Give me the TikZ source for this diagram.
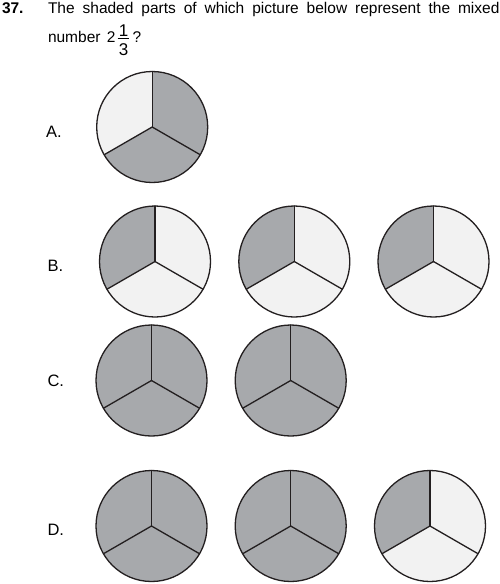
\documentclass[tikz,border=0pt]{standalone}
\usepackage{fontspec}
\setmainfont{Liberation Sans}
\definecolor{darkfill}{HTML}{A7A9AC}
\definecolor{lightfill}{HTML}{F2F2F2}
\definecolor{ink}{HTML}{231F20}
\tikzset{
  txt/.style={inner sep=0pt, outer sep=0pt, font=\fontsize{15.5}{18}\selectfont, text=black},
  fracdigit/.style={inner sep=0pt, outer sep=0pt, font=\fontsize{17}{19}\selectfont, text=black},
  lbl/.style={inner sep=0pt, outer sep=0pt, font=\fontsize{16.5}{18}\selectfont, text=black},
  rim/.style={draw=ink, line width=1.3pt},
  spoke/.style={draw=ink, line width=1.3pt, line cap=round},
}
% y axis points down: screen-up is 270, lower-left spoke 150, lower-right spoke 30
% #1 name, #2 x, #3 y, #4 left colour, #5 right colour, #6 bottom colour
\newcommand\fracpie[6]{%
  \coordinate (#1) at (#2,#3);
  \fill[fill=#4] (#1) -- ++(150:55.5) arc[start angle=150, end angle=270, radius=55.5] -- cycle;
  \fill[fill=#5] (#1) -- ++(-90:55.5) arc[start angle=-90, end angle=30, radius=55.5] -- cycle;
  \fill[fill=#6] (#1) -- ++(30:55.5) arc[start angle=30, end angle=150, radius=55.5] -- cycle;
  \draw[spoke] (#1) -- ++(270:55.5);
  \draw[spoke] (#1) -- ++(150:55.5);
  \draw[spoke] (#1) -- ++(30:55.5);
  \draw[rim] (#1) circle[radius=55.5];
}
\begin{document}
\begin{tikzpicture}[x=1pt,y=-1pt]
\useasboundingbox (0,0) rectangle (500,584);
\fill[white] (0,0) rectangle (500,584);
% question text
\node[txt, font=\fontsize{15.5}{18}\selectfont\bfseries, anchor=base west] (num) at (2,13.8) {37.};
\node[txt, anchor=base west] (line1) at (48,13.8) {\makebox[451.5pt][s]{The shaded parts of which picture below represent the mixed}};
\node[txt, anchor=base west] (line2) at (48,42.3) {number\hspace{2pt} 2};
\node[fracdigit, anchor=base] (fnum) at (123.6,36.3) {1};
\node[fracdigit, anchor=base] (fden) at (123.6,55.2) {3};
\draw[line width=0.9pt] (117.7,38.9) -- (128.5,38.9);
\node[txt, anchor=base west] (qm) at (132.5,42.3) {?};
% labels
\node[lbl, anchor=base west] (la) at (46,137.8) {A.};
\node[lbl, anchor=base west] (lb) at (47.5,271.8) {B.};
\node[lbl, anchor=base west] (lc) at (47.5,386.8) {C.};
\node[lbl, anchor=base west] (ld) at (47.5,535) {D.};
% A
\fracpie{a1}{152.2}{127}{lightfill}{darkfill}{darkfill}
% B
\fracpie{b1}{155}{261.5}{darkfill}{lightfill}{lightfill}
\fracpie{b2}{294.3}{261.5}{darkfill}{lightfill}{lightfill}
\fracpie{b3}{433.5}{261.5}{darkfill}{lightfill}{lightfill}
% C
\fracpie{c1}{151.5}{380.5}{darkfill}{darkfill}{darkfill}
\fracpie{c2}{290.7}{380.5}{darkfill}{darkfill}{darkfill}
% D
\fracpie{d1}{151.5}{526}{darkfill}{darkfill}{darkfill}
\fracpie{d2}{290.7}{526}{darkfill}{darkfill}{darkfill}
\fracpie{d3}{430}{526}{darkfill}{lightfill}{lightfill}
\end{tikzpicture}
\end{document}
